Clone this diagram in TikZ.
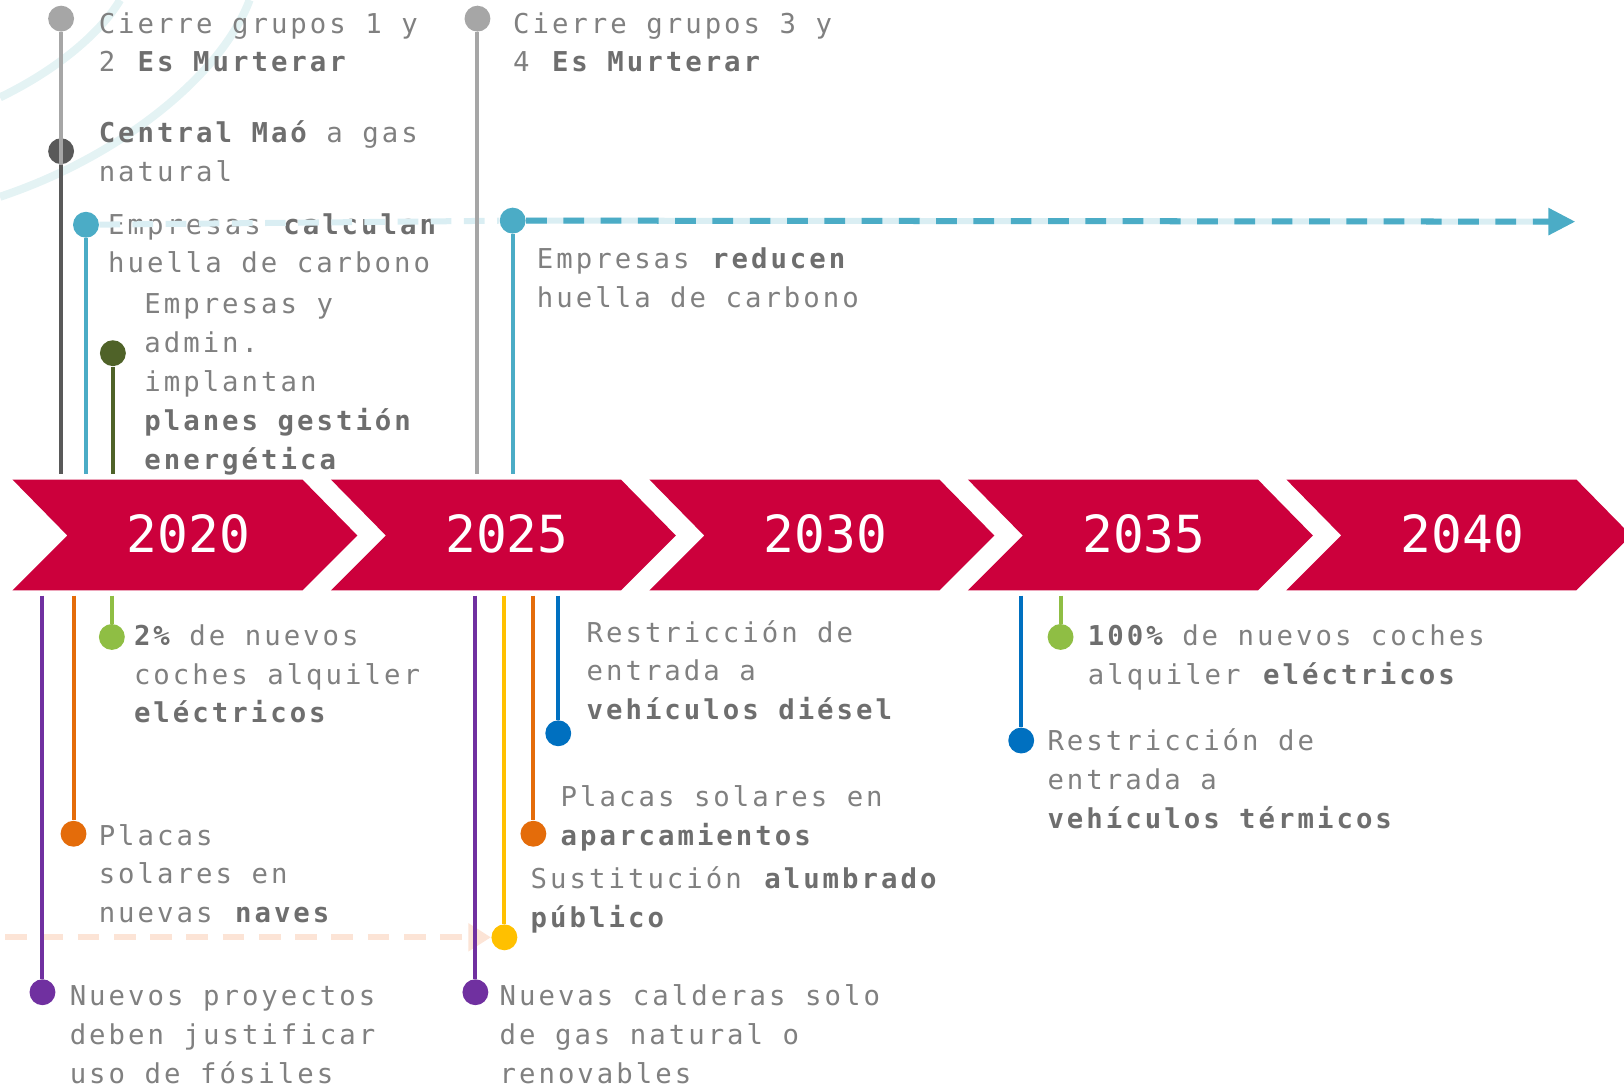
\documentclass[tikz,border=0pt]{standalone}
\usepackage{fontspec}
\usepackage{xcolor}
\usepackage{tikz}
\usetikzlibrary{arrows.meta}
\newfontfamily\notefont{DejaVu Sans Mono}[LetterSpace=11]
\newfontfamily\yearfont{DejaVu Sans Mono}
\definecolor{chevred}{RGB}{204, 0, 60}
\definecolor{txtgray}{RGB}{128, 128, 128}
\definecolor{txtbold}{RGB}{110, 110, 110}
\definecolor{greyA}{RGB}{166, 166, 166}
\definecolor{greyB}{RGB}{89, 89, 89}
\definecolor{teal}{RGB}{75, 172, 198}
\definecolor{tealpale}{RGB}{218, 238, 243}
\definecolor{olive}{RGB}{79, 98, 40}
\definecolor{purple}{RGB}{112, 48, 160}
\definecolor{orange}{RGB}{228, 108, 10}
\definecolor{orangepale}{RGB}{252, 228, 214}
\definecolor{lime}{RGB}{143, 190, 68}
\definecolor{amber}{RGB}{255, 192, 0}
\definecolor{azure}{RGB}{0, 112, 192}
\definecolor{swirl}{RGB}{228, 243, 244}
\newcommand{\hl}[1]{\textbf{\color{txtbold}#1}}

\begin{document}
\begin{tikzpicture}[
    x=0.5pt, y=-0.5pt,
    % Define styles
    chev/.style = {fill=chevred},
    year/.style = {text=white, inner sep=0pt, font=\yearfont\fontsize{24.7}{26}\selectfont},
    dot/.style = {circle, fill=#1, minimum size=12.5pt, inner sep=0pt},
    stem/.style = {line width=1.95pt, draw=#1},
    note/.style = {anchor=base west, align=left, inner sep=0pt, text=txtgray, font=\notefont\fontsize{13.2}{18.75}\selectfont},
    swoosh/.style = {line width=3.9pt, draw=swirl},
    track/.style = {line width=2.9pt, draw=#1}
]
\useasboundingbox (0,0) rectangle (1568,1048);
\clip (0,0) rectangle (1568,1048);

% Background swooshes
\draw [swoosh] (0,94) .. controls (50,70) and (95,35) .. (116,0);
\draw [swoosh] (0,190) .. controls (120,150) and (215,70) .. (241,0);

% Chevrons
\foreach \yr [count=\i from 0] in {2020,2025,2030,2035,2040} {
    \fill [chev] ({12+307.5*\i},463) -- ++(280,0) -- ++(53,54) -- ++(-53,53) -- ++(-280,0) -- ++(53,-53) -- cycle;
    \node [year] (y\yr) at ({182+307.5*\i},515) {\yr};
}

% Dots above
\node [dot=greyA] (d1) at (59,18) {};
\node [dot=greyB] (d2) at (59,146) {};
\node [dot=teal] (d3) at (83,217) {};
\node [dot=olive] (d4) at (109,341) {};
\node [dot=greyA] (d5) at (461,18) {};
\node [dot=teal] (d6) at (495,213) {};
% Dots below
\node [dot=purple] (b1) at (41,958) {};
\node [dot=orange] (b2) at (71,805) {};
\node [dot=lime] (b3) at (108,615) {};
\node [dot=purple] (b4) at (459,958) {};
\node [dot=amber] (b5) at (487,905) {};
\node [dot=orange] (b6) at (515,805) {};
\node [dot=azure] (b7) at (539,708) {};
\node [dot=azure] (b8) at (986,715) {};
\node [dot=lime] (b9) at (1024,615) {};

% Faint arrow to the lighting
\coordinate (lampstart) at (5,905);
\draw [track=orangepale, dash pattern=on 10.5pt off 7pt, -{Triangle[length=11pt, width=13pt]}] (lampstart) -- (b5);

% Notes (placed at the baseline of their last line)
\node [note] (n1) at (95,69.5) {Cierre grupos 1 y\\2 \hl{Es Murterar}};
\node [note] (n2) at (95,175.5) {\hl{Central Maó} a gas\\natural};
\node [note] (n3) at (104,263.5) {Empresas \hl{calculan}\\huella de carbono};
\node [note] (n4) at (139,453) {Empresas y\\admin.\\implantan\\\hl{planes gestión}\\\hl{energética}};
\node [note] (n5) at (495,69.5) {Cierre grupos 3 y\\4 \hl{Es Murterar}};
\node [note] (n6) at (518,296.5) {Empresas \hl{reducen}\\huella de carbono};
\node [note] (m1) at (67,1046) {Nuevos proyectos\\deben justificar\\uso de fósiles};
\node [note] (m2) at (95,891) {Placas\\solares en\\nuevas \hl{naves}};
\node [note] (m3) at (129,698) {\hl{2\%} de nuevos\\coches alquiler\\\hl{eléctricos}};
\node [note] (m4) at (482,1046) {Nuevas calderas solo\\de gas natural o\\renovables};
\node [note] (m5) at (512,895.5) {Sustitución \hl{alumbrado}\\\hl{público}};
\node [note] (m6) at (541,816.5) {Placas solares en\\\hl{aparcamientos}};
\node [note] (m7) at (566,695) {Restricción de\\entrada a\\\hl{vehículos diésel}};
\node [note] (m8) at (1011,800) {Restricción de\\entrada a\\\hl{vehículos térmicos}};
\node [note] (m9) at (1050,660.5) {\hl{100\%} de nuevos coches\\alquiler \hl{eléctricos}};

% Carbon footprint track
\coordinate (trackend) at (1521,214);
\draw [track=tealpale, dash pattern=on 10pt off 6pt] (d3) -- (d6);
\draw [track=tealpale, shorten >=12pt] (d6) -- (trackend);
\draw [track=teal, dash pattern=on 10pt off 8pt, -{Triangle[length=13pt, width=12.5pt]}] (d6) -- (trackend);

% Stems
\coordinate (d1e) at (59,458);
\coordinate (d2e) at (59,458);
\coordinate (d3e) at (83,458);
\coordinate (d4e) at (109,458);
\coordinate (d5e) at (461,458);
\coordinate (d6e) at (495,458);
\draw [stem=greyA] (d1) -- (d1e);
\draw [stem=greyB] (d2) -- (d2e);
\draw [stem=teal] (d3) -- (d3e);
\draw [stem=olive] (d4) -- (d4e);
\draw [stem=greyA] (d5) -- (d5e);
\draw [stem=teal] (d6) -- (d6e);
\foreach \b/\x/\c in {b1/41/purple, b2/71/orange, b3/108/lime, b4/459/purple, b5/487/amber, b6/515/orange, b7/539/azure, b8/986/azure, b9/1024/lime} {
    \coordinate (\b s) at (\x,575);
    \draw [stem=\c] (\b s) -- (\b);
}

\end{tikzpicture}
\end{document}
